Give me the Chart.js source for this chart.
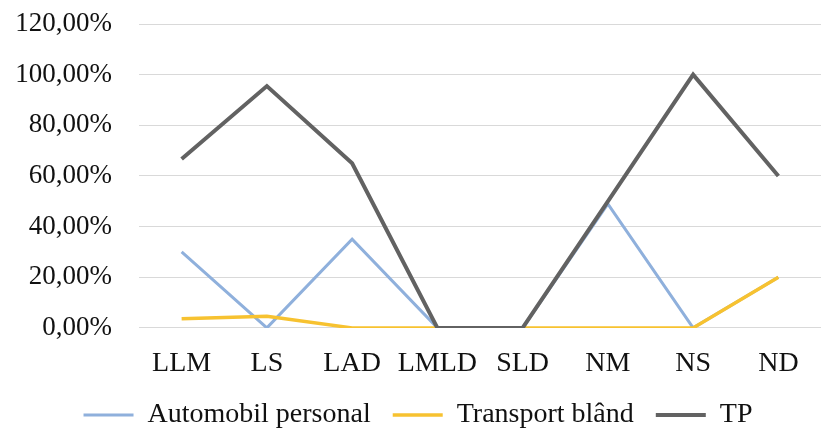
<!DOCTYPE html>
<html>
<head>
<meta charset="utf-8">
<script src="https://cdn.jsdelivr.net/npm/chart.js@4"></script>
<style>
  html, body { margin: 0; padding: 0; background: #fff; }
  #wrap { width: 821px; height: 428px; }
</style>
</head>
<body>
<div id="wrap"><canvas id="chart" width="821" height="428"></canvas></div>
<script>
// categories and series (percent)
const categories = ['LLM', 'LS', 'LAD', 'LMLD', 'SLD', 'NM', 'NS', 'ND']
const automobil = [30, 0, 35, 0, 0, 49, 0, 20]
const transportBland = [3.6, 4.6, 0, 0, 0, 0, 0, 20]
const tp = [66.7, 95.5, 65, 0, 0, 50, 100, 60]
const yTicks = [0, 20, 40, 60, 80, 100, 120]

const serif = "'Liberation Serif', 'Times New Roman', serif"

function pct(v) {
    return v.toFixed(2).replace('.', ',') + '%'
}

function drawChart() {
    const ctx = document.getElementById('chart').getContext('2d')
    return new Chart(ctx, {
        type: 'line',
        data: {
            labels: categories,
            datasets: [
                {
                    label: 'Automobil personal',
                    data: automobil,
                    borderColor: '#8fb0dc',
                    backgroundColor: '#8fb0dc',
                    borderWidth: 3,
                    pointRadius: 0,
                    order: 2
                },
                {
                    label: 'Transport blând',
                    data: transportBland,
                    borderColor: '#f7c230',
                    backgroundColor: '#f7c230',
                    borderWidth: 3.5,
                    pointRadius: 0,
                    order: 1
                },
                {
                    label: 'TP',
                    data: tp,
                    borderColor: '#626262',
                    backgroundColor: '#626262',
                    borderWidth: 4,
                    pointRadius: 0,
                    order: 0
                }
            ]
        },
        options: {
            responsive: false,
            animation: false,
            layout: {
                padding: { top: 24, left: 15, right: 0, bottom: -11 }
            },
            plugins: {
                tooltip: { enabled: false },
                legend: {
                    position: 'bottom',
                    labels: {
                        usePointStyle: true,
                        pointStyle: 'line',
                        pointStyleWidth: 50,
                        padding: 22,
                        color: '#111',
                        font: { family: serif, size: 28 },
                        sort: (a, b) => a.datasetIndex - b.datasetIndex
                    }
                }
            },
            scales: {
                x: {
                    offset: true,
                    grid: { display: false, drawTicks: false },
                    border: { display: false },
                    afterFit: (scale) => { scale.height -= 20.5 },
                    ticks: {
                        color: '#111',
                        padding: 19,
                        maxRotation: 0,
                        autoSkip: false,
                        font: { family: serif, size: 28 }
                    }
                },
                y: {
                    min: 0,
                    max: 120,
                    afterBuildTicks: (axis) => {
                        axis.ticks = yTicks.map(v => ({ value: v }))
                    },
                    afterFit: (scale) => {
                        scale.width = 124
                        scale.paddingTop = 0
                    },
                    grid: { color: '#d9d9d9', lineWidth: 1, drawTicks: false },
                    border: { display: false },
                    ticks: {
                        color: '#111',
                        padding: 27,
                        font: { family: serif, size: 27 },
                        callback: (v) => pct(v)
                    }
                }
            }
        }
    })
}

// make sure the serif font is ready before chart.js measures labels
if (document.fonts && document.fonts.load) {
    Promise.all([
        document.fonts.load("27px 'Liberation Serif'"),
        document.fonts.load("28px 'Liberation Serif'")
    ]).then(drawChart, drawChart)
} else {
    drawChart()
}
</script>
</body>
</html>
